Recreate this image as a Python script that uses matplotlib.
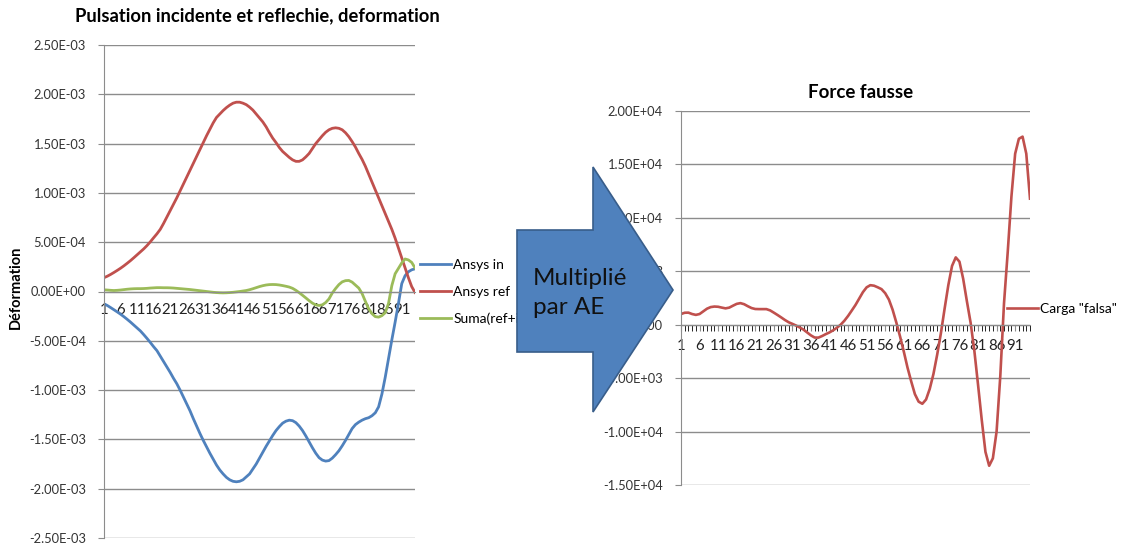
import matplotlib
matplotlib.use("Agg")  # headless
import matplotlib.pyplot as plt
from matplotlib.patches import Polygon

plt.rcParams["font.family"] = ["Lato", "DejaVu Sans"]

# ---- data ----
categories = list(range(1, 96))
tick_positions = categories[::5]
tick_labels = [str(c) for c in tick_positions]

ansys_in = [
    -1.25e-4, -1.42e-4, -1.63e-4, -1.85e-4, -2.07e-4, -2.30e-4, -2.55e-4, -2.82e-4, -3.10e-4, -3.40e-4,
    -3.70e-4, -4.00e-4, -4.37e-4, -4.76e-4, -5.17e-4, -5.60e-4, -6.00e-4, -6.55e-4, -7.10e-4, -7.65e-4,
    -8.20e-4, -8.80e-4, -9.35e-4, -1.00e-3, -1.07e-3, -1.14e-3, -1.21e-3, -1.29e-3, -1.365e-3, -1.44e-3,
    -1.51e-3, -1.575e-3, -1.64e-3, -1.70e-3, -1.76e-3, -1.81e-3, -1.85e-3, -1.885e-3, -1.91e-3, -1.925e-3,
    -1.93e-3, -1.925e-3, -1.91e-3, -1.88e-3, -1.85e-3, -1.80e-3, -1.75e-3, -1.69e-3, -1.63e-3, -1.57e-3,
    -1.515e-3, -1.46e-3, -1.41e-3, -1.37e-3, -1.335e-3, -1.315e-3, -1.305e-3, -1.31e-3, -1.33e-3, -1.365e-3,
    -1.41e-3, -1.465e-3, -1.525e-3, -1.585e-3, -1.64e-3, -1.685e-3, -1.71e-3, -1.72e-3, -1.715e-3, -1.69e-3,
    -1.655e-3, -1.615e-3, -1.565e-3, -1.51e-3, -1.45e-3, -1.39e-3, -1.35e-3, -1.325e-3, -1.305e-3, -1.29e-3,
    -1.28e-3, -1.26e-3, -1.23e-3, -1.17e-3, -1.04e-3, -8.7e-4, -6.8e-4, -4.9e-4, -3.1e-4, -1.2e-4,
    8.0e-5, 1.6e-4, 2.0e-4, 2.2e-4, 2.3e-4,
]
ansys_ref = [
    1.40e-4, 1.55e-4, 1.73e-4, 1.93e-4, 2.14e-4, 2.36e-4, 2.60e-4, 2.86e-4, 3.13e-4, 3.42e-4,
    3.72e-4, 4.02e-4, 4.32e-4, 4.66e-4, 5.04e-4, 5.45e-4, 5.85e-4, 6.30e-4, 6.90e-4, 7.55e-4,
    8.20e-4, 8.85e-4, 9.50e-4, 1.02e-3, 1.09e-3, 1.16e-3, 1.23e-3, 1.30e-3, 1.37e-3, 1.44e-3,
    1.51e-3, 1.58e-3, 1.645e-3, 1.71e-3, 1.765e-3, 1.80e-3, 1.835e-3, 1.865e-3, 1.89e-3, 1.91e-3,
    1.92e-3, 1.92e-3, 1.91e-3, 1.895e-3, 1.87e-3, 1.84e-3, 1.80e-3, 1.76e-3, 1.72e-3, 1.67e-3,
    1.61e-3, 1.555e-3, 1.51e-3, 1.46e-3, 1.42e-3, 1.39e-3, 1.36e-3, 1.335e-3, 1.32e-3, 1.32e-3,
    1.335e-3, 1.365e-3, 1.40e-3, 1.45e-3, 1.50e-3, 1.54e-3, 1.58e-3, 1.615e-3, 1.64e-3, 1.655e-3,
    1.66e-3, 1.655e-3, 1.64e-3, 1.61e-3, 1.57e-3, 1.52e-3, 1.465e-3, 1.40e-3, 1.34e-3, 1.27e-3,
    1.19e-3, 1.11e-3, 1.03e-3, 9.5e-4, 8.7e-4, 7.9e-4, 7.1e-4, 6.3e-4, 5.4e-4, 4.4e-4,
    3.4e-4, 2.4e-4, 1.4e-4, 5.0e-5, -1.0e-5,
]
suma = [
    1.7e-5, 1.5e-5, 1.2e-5, 1.0e-5, 1.2e-5, 1.5e-5, 1.9e-5, 2.3e-5, 2.6e-5, 2.8e-5,
    2.9e-5, 2.9e-5, 3.0e-5, 3.2e-5, 3.5e-5, 3.7e-5, 3.9e-5, 3.9e-5, 3.8e-5, 3.8e-5,
    3.7e-5, 3.5e-5, 3.2e-5, 2.9e-5, 2.6e-5, 2.3e-5, 2.0e-5, 1.6e-5, 1.2e-5, 8e-6,
    4e-6, 0.0, -4e-6, -8e-6, -1.1e-5, -1.3e-5, -1.4e-5, -1.3e-5, -1.1e-5, -8e-6,
    -4e-6, 0.0, 5e-6, 1.0e-5, 1.8e-5, 2.8e-5, 3.9e-5, 5.0e-5, 5.9e-5, 6.6e-5,
    7.0e-5, 7.1e-5, 7.0e-5, 6.6e-5, 6.0e-5, 5.3e-5, 4.5e-5, 3.2e-5, 1.2e-5, -1.2e-5,
    -3.8e-5, -6.5e-5, -9.3e-5, -1.18e-4, -1.36e-4, -1.42e-4, -1.35e-4, -1.12e-4, -7.5e-5, -1.5e-5,
    3.0e-5, 7.0e-5, 9.8e-5, 1.10e-4, 1.12e-4, 9.5e-5, 6.5e-5, 3.5e-5, -2.0e-5, -1.00e-4,
    -1.75e-4, -2.25e-4, -2.55e-4, -2.60e-4, -2.45e-4, -2.15e-4, -1.20e-4, 6.0e-5, 1.80e-4, 2.35e-4,
    2.90e-4, 3.30e-4, 3.20e-4, 2.95e-4, 2.40e-4,
]
carga_falsa = [
    1000, 1120, 1130, 1000, 920, 1000, 1250, 1500, 1650, 1700,
    1680, 1600, 1530, 1600, 1780, 1950, 2020, 1920, 1730, 1560,
    1470, 1460, 1460, 1460, 1340, 1130, 910, 680, 440, 230,
    80, -80, -260, -460, -730, -1000, -1200, -1210, -1060, -880,
    -720, -520, -280, 0, 370, 820, 1330, 1850, 2450, 3050,
    3500, 3700, 3650, 3500, 3330, 2950, 2350, 1400, 200, -1100,
    -2500, -4000, -5300, -6500, -7200, -7400, -7000, -6000, -4600, -2800,
    -800, 1500, 3700, 5500, 6300, 5900, 4300, 2200, 200, -2400,
    -5600, -8900, -11900, -13200, -12500, -10000, -4800, 2000, 6800, 12000,
    16000, 17400, 17600, 16000, 11800,
]

left_yticks = [k * 5e-4 for k in range(-5, 6)]
right_yticks = [k * 5000 for k in range(-3, 5)]

BLUE, RED, GREEN = "#4F81BD", "#C0504D", "#9BBB59"
GRID = "#8C8C8C"
W, H = 1121, 551


def px_rect(x0, y0, x1, y1):
    """figure-pixel box (top-left origin) -> axes rect"""
    return [x0 / W, 1 - y1 / H, (x1 - x0) / W, (y1 - y0) / H]


def fx(x):
    return x / W


def fy(y):
    return 1 - y / H


def style(ax, yticks):
    ax.set_xlim(categories[0], categories[-1])
    ax.set_ylim(yticks[0], yticks[-1])
    ax.set_yticks(yticks)
    ax.set_yticklabels([f"{v:.2E}" for v in yticks])
    ax.set_xticks(tick_positions)
    ax.set_xticklabels(tick_labels)
    ax.yaxis.grid(True, color=GRID, lw=1.0)
    ax.set_axisbelow(True)
    for s in ("top", "right"):
        ax.spines[s].set_visible(False)
    ax.spines["left"].set_color(GRID)
    ax.spines["bottom"].set_color(GRID)
    ax.spines["bottom"].set_position(("data", 0))
    ax.tick_params(axis="y", colors=GRID, labelcolor="#333333", length=4, labelsize=9.3, pad=9)
    ax.tick_params(axis="x", colors=GRID, labelcolor="#222222", labelsize=10.8)


fig = plt.figure(figsize=(W / 100, H / 100), dpi=100)

# ---- left chart ----
ax1 = fig.add_axes(px_rect(104, 45, 415, 538))
style(ax1, left_yticks)
ax1.plot(categories, ansys_in, color=BLUE, lw=2.0, label="Ansys in")
ax1.plot(categories, ansys_ref, color=RED, lw=2.0, label="Ansys ref")
ax1.plot(categories, suma, color=GREEN, lw=2.0, label="Suma(ref+in)")
ax1.tick_params(axis="x", length=0, pad=8)
ax1.set_ylabel("Déformation", fontsize=10.5, fontweight="bold")
ax1.yaxis.set_label_coords((23 - 104) / 311, (538 - 287) / 493)
ax1.legend(loc="center left", bbox_to_anchor=(fx(420), fy(292)), bbox_transform=fig.transFigure,
           frameon=False, fontsize=10, handlelength=2.2, handletextpad=0.2,
           labelspacing=1.05, borderpad=0, borderaxespad=0)
fig.text(fx(257), fy(16), "Pulsation incidente et reflechie, deformation",
         ha="center", va="center", fontsize=13.2, fontweight="bold")

# ---- right chart ----
ax2 = fig.add_axes(px_rect(681, 111, 1030, 485))
style(ax2, right_yticks)
ax2.plot(categories, carga_falsa, color=RED, lw=1.9, label='Carga "falsa"')
ax2.set_xticks(categories, minor=True)
ax2.tick_params(axis="x", which="both", length=4, direction="out", pad=6)
ax2.legend(loc="center left", bbox_to_anchor=(fx(1007), fy(309)), bbox_transform=fig.transFigure,
           frameon=False, fontsize=10, handlelength=2.2, handletextpad=0.2,
           borderpad=0, borderaxespad=0)
fig.text(fx(861), fy(92), "Force fausse", ha="center", va="center", fontsize=13.5, fontweight="bold")

# ---- block arrow between the charts (drawn over the right chart's labels) ----
arrow_px = [(517, 230), (593, 230), (593, 167), (673, 290), (593, 412), (593, 352), (517, 352)]
arrow = Polygon([(fx(x), fy(y)) for x, y in arrow_px], closed=True, transform=fig.transFigure,
                facecolor=BLUE, edgecolor="#385D8A", lw=1.2, zorder=10)
fig.patches.append(arrow)
fig.text(fx(533), fy(293), "Multiplié\npar AE", ha="left", va="center", fontsize=17.5,
         color="#111111", linespacing=1.45, zorder=11)

fig.savefig("out.png", dpi=100)
